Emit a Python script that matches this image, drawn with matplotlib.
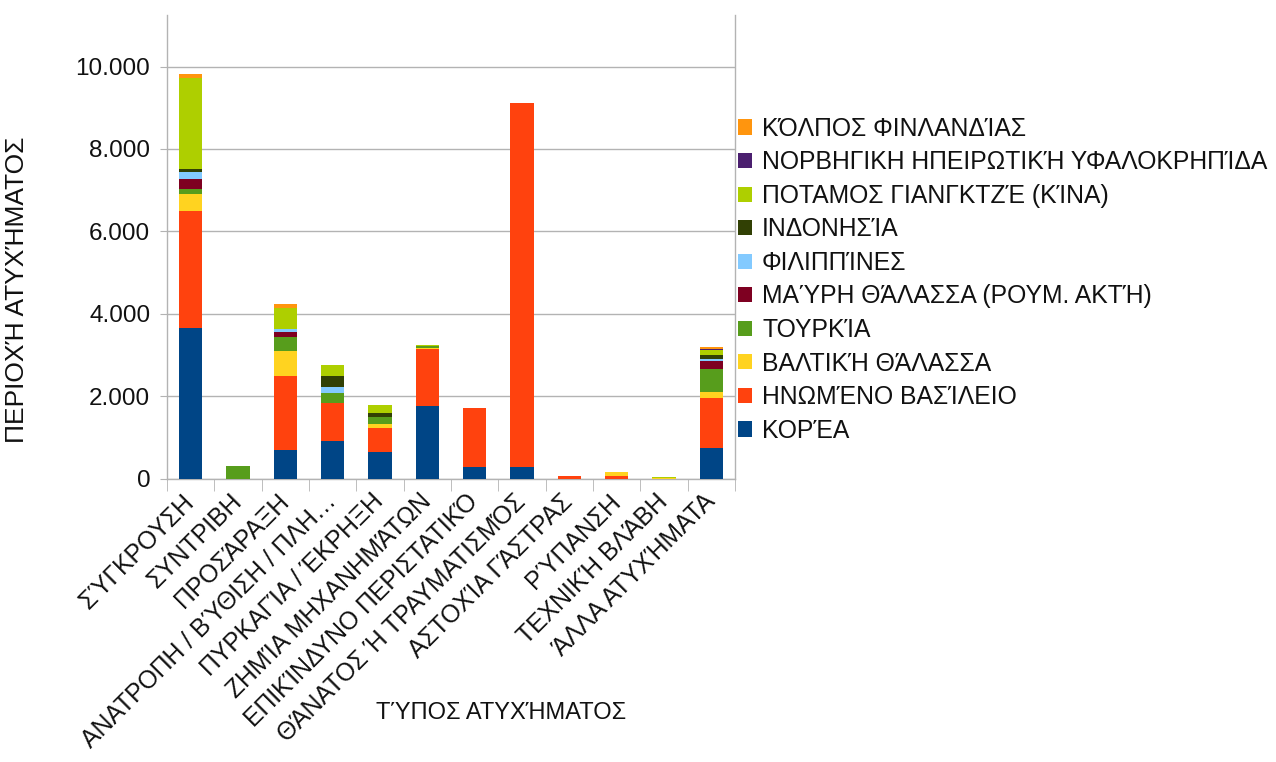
import matplotlib
matplotlib.use("Agg")
import matplotlib.pyplot as plt
from matplotlib.patches import Patch
import numpy as np

plt.rcParams['font.family'] = ['Liberation Sans', 'DejaVu Sans']

categories = [
    "ΣΎΓΚΡΟΥΣΗ", "ΣΥΝΤΡΙΒΗ", "ΠΡΟΣΆΡΑΞΗ", "ΑΝΑΤΡΟΠΗ / ΒΎΘΙΣΗ / ΠΛΗ…",
    "ΠΥΡΚΑΓΊΑ / ΈΚΡΗΞΗ", "ΖΗΜΊΑ ΜΗΧΑΝΗΜΆΤΩΝ", "ΕΠΙΚΊΝΔΥΝΟ ΠΕΡΙΣΤΑΤΙΚΌ",
    "ΘΆΝΑΤΟΣ Ή ΤΡΑΥΜΑΤΙΣΜΌΣ", "ΑΣΤΟΧΊΑ ΓΆΣΤΡΑΣ", "ΡΎΠΑΝΣΗ",
    "ΤΕΧΝΙΚΉ ΒΛΆΒΗ", "ΆΛΛΑ ΑΤΥΧΉΜΑΤΑ",
]

series_names = [
    "ΚΟΡΈΑ", "ΗΝΩΜΈΝΟ ΒΑΣΊΛΕΙΟ", "ΒΑΛΤΙΚΉ ΘΆΛΑΣΣΑ", "ΤΟΥΡΚΊΑ",
    "ΜΑΎΡΗ ΘΆΛΑΣΣΑ (ΡΟΥΜ. ΑΚΤΉ)", "ΦΙΛΙΠΠΊΝΕΣ", "ΙΝΔΟΝΗΣΊΑ",
    "ΠΟΤΑΜΟΣ ΓΙΑΝΓΚΤΖΈ (ΚΊΝΑ)", "ΝΟΡΒΗΓΙΚΗ ΗΠΕΙΡΩΤΙΚΉ ΥΦΑΛΟΚΡΗΠΊΔΑ",
    "ΚΌΛΠΟΣ ΦΙΝΛΑΝΔΊΑΣ",
]

korea       = [3650, 0, 680, 920, 640, 1760, 280, 270, 0, 0, 0, 740]
uk          = [2850, 0, 1810, 920, 590, 1380, 1430, 8850, 50, 50, 0, 1220]
baltic      = [400, 0, 610, 0, 90, 30, 0, 0, 0, 110, 20, 150]
turkey      = [130, 300, 340, 240, 180, 40, 0, 0, 0, 0, 0, 540]
black_sea   = [240, 0, 120, 0, 0, 0, 0, 0, 0, 0, 0, 200]
philippines = [160, 0, 60, 130, 0, 0, 0, 0, 0, 0, 0, 50]
indonesia   = [80, 0, 0, 290, 90, 0, 0, 0, 0, 0, 0, 100]
yangtze     = [2210, 0, 510, 260, 200, 40, 0, 0, 0, 0, 20, 120]
norway      = [0, 0, 0, 0, 0, 0, 0, 0, 0, 0, 0, 20]
finland     = [100, 0, 100, 0, 0, 0, 0, 0, 0, 0, 0, 50]

series = [korea, uk, baltic, turkey, black_sea, philippines,
          indonesia, yangtze, norway, finland]
colors = ["#004586", "#ff420e", "#ffd320", "#579d1c", "#7e0021",
          "#83caff", "#314004", "#aecf00", "#4b1f6f", "#ff950e"]

W, H = 1276, 762
fig = plt.figure(figsize=(W / 100, H / 100), dpi=100)
ax = fig.add_axes([167 / W, 1 - 478.5 / H, (735 - 167) / W, (478.5 - 15) / H])

x = np.arange(len(categories))
bottom = np.zeros(len(categories))
for vals, col in zip(series, colors):
    v = np.array(vals, dtype=float)
    ax.bar(x, v, width=0.49, bottom=bottom, color=col, linewidth=0, zorder=3)
    bottom += v

grid_col = "#b3b3b3"
text_col = "#111111"
ax.set_xlim(-0.5, len(categories) - 0.5)
ax.set_ylim(0, 11250)
ax.set_yticks(np.arange(0, 10001, 2000))
ax.set_yticklabels(["0", "2.000", "4.000", "6.000", "8.000", "10.000"], fontsize=17.5)
ax.yaxis.grid(True, color=grid_col, linewidth=1, zorder=0)
ax.tick_params(axis='y', length=5, color=grid_col, pad=7, labelcolor=text_col)

ax.set_xticks(x)
ax.set_xticklabels(categories, rotation=45, ha='right', va='center',
                   rotation_mode='anchor', fontsize=17.8, color=text_col)
ax.set_xticks(np.arange(-0.5, len(categories), 1), minor=True)
ax.tick_params(axis='x', which='major', length=0, pad=14)
ax.tick_params(axis='x', which='minor', length=8.5, color=grid_col)

for side in ['left', 'bottom', 'right']:
    ax.spines[side].set_color(grid_col)
    ax.spines[side].set_linewidth(1)
ax.spines['top'].set_visible(False)

fig.text(17 / W, 1 - 290 / H, "ΠΕΡΙΟΧΉ ΑΤΥΧΉΜΑΤΟΣ", rotation=90,
         ha='center', va='center', fontsize=19, color=text_col)
fig.text(501 / W, 1 - 713 / H, "ΤΎΠΟΣ ΑΤΥΧΉΜΑΤΟΣ",
         ha='center', va='center', fontsize=17, color=text_col)

handles = [Patch(facecolor=c, edgecolor='none') for c in colors][::-1]
labels = series_names[::-1]
fig.legend(handles, labels, loc='upper left',
           bbox_to_anchor=(728 / W, 1 - 107 / H), frameon=False,
           fontsize=17.8, handlelength=0.58, handleheight=0.58,
           handletextpad=0.4, labelspacing=0.385, borderaxespad=0,
           labelcolor=text_col)

fig.savefig("out.png", dpi=100)
